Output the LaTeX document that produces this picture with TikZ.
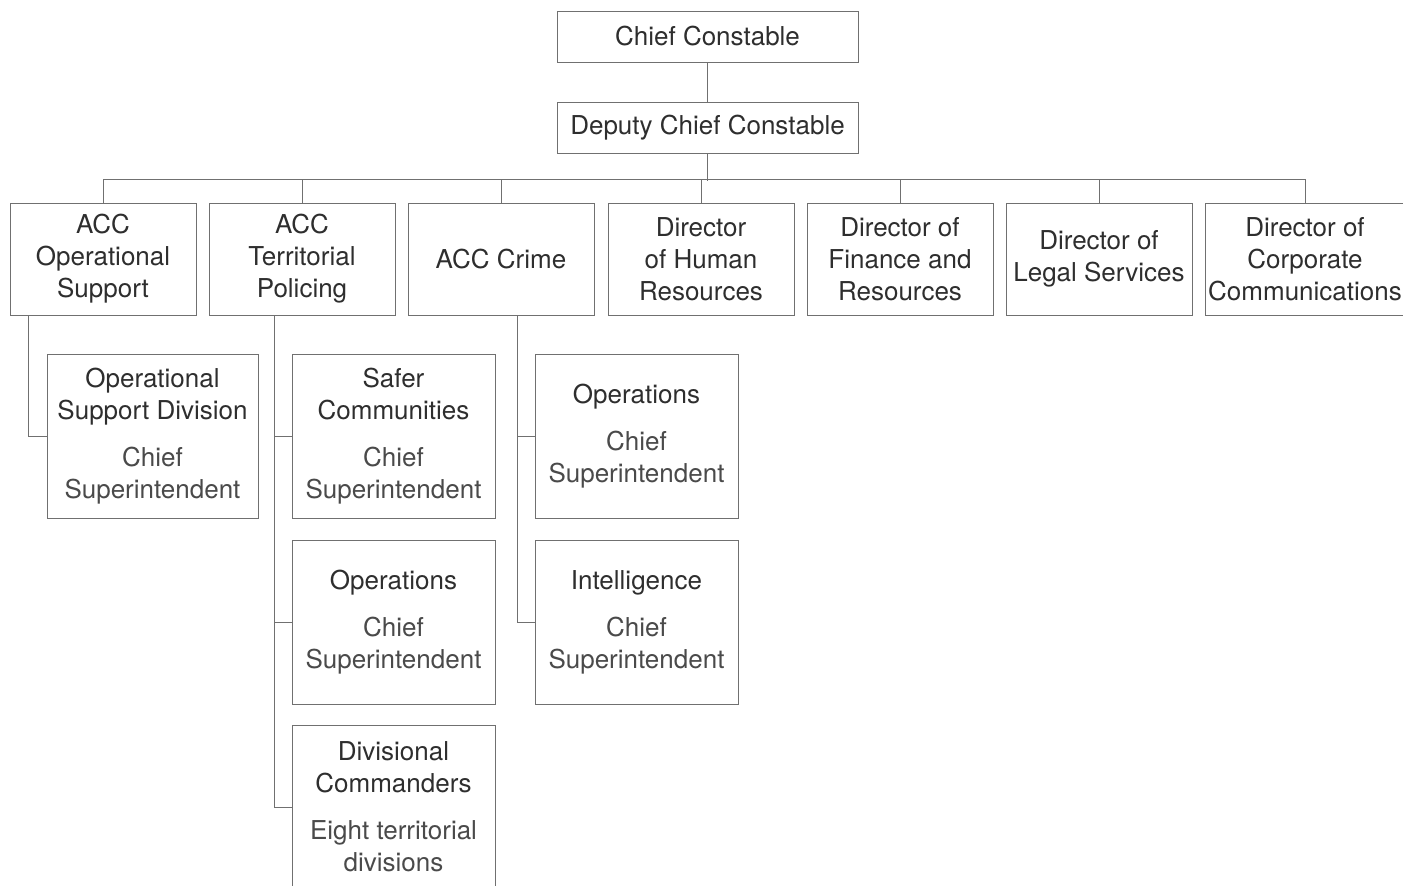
\documentclass[tikz,border=0pt]{standalone}
\usepackage{fontspec}
\setmainfont{TeX Gyre Heros}
\definecolor{linegray}{HTML}{707070}
\definecolor{textgray}{HTML}{2E2E2E}
\definecolor{subgray}{HTML}{4A4A4A}
\tikzset{
  box/.style={draw=linegray, line width=1pt, inner sep=0pt, align=center,
    text=textgray, font=\fontsize{26}{32}\selectfont},
  topbox/.style={box, minimum width=301pt, minimum height=51pt},
  rowbox/.style={box, minimum width=186pt, minimum height=112pt},
  subbox/.style={box, minimum width=203pt, minimum height=164pt},
  link/.style={draw=linegray, line width=1pt}
}
\newcommand{\rank}[2]{\\[15pt]\color{subgray}#1\\\color{subgray}#2}
\begin{document}
\begin{tikzpicture}[x=1pt,y=-1pt]
  \useasboundingbox (0,0) rectangle (1403,886);
  \node[topbox] (cc)  at (707.5,36.5)  {Chief Constable};
  \node[topbox] (dcc) at (707.5,127.5) {Deputy Chief Constable};

  \node[rowbox] (aos) at (103,259)  {ACC\\Operational\\Support};
  \node[rowbox] (atp) at (302,259)  {ACC\\Territorial\\Policing};
  \node[rowbox] (acr) at (501,259)  {ACC Crime};
  \node[rowbox] (dhr) at (701,259)  {Director\\of Human\\Resources};
  \node[rowbox] (dfr) at (900,259)  {Director of\\Finance and\\Resources};
  \node[rowbox] (dls) at (1099,259) {Director of\\Legal Services};
  \node[rowbox, minimum width=200pt] (dcm) at (1305,259) {Director of\\Corporate\\Communications};

  \node[subbox, minimum width=211pt] (osd) at (152.5,436) {Operational\\Support Division\rank{Chief}{Superintendent}};
  \node[subbox] (scm) at (393.5,436) {Safer\\Communities\rank{Chief}{Superintendent}};
  \node[subbox] (top) at (393.5,622) {Operations\rank{Chief}{Superintendent}};
  \node[subbox] (dvc) at (393.5,807) {Divisional\\Commanders\rank{Eight territorial}{divisions}};
  \node[subbox] (cop) at (636.5,436) {Operations\rank{Chief}{Superintendent}};
  \node[subbox] (int) at (636.5,622) {Intelligence\rank{Chief}{Superintendent}};

  \draw[link] (cc) -- (dcc);
  \draw[link] (dcc.south) -- ++(0,27);
  \draw[link] (aos.north) -- ++(0,-23) -| (dcm.north);
  \foreach \n in {atp,acr,dhr,dfr,dls}
    \draw[link] (\n.north) -- ++(0,-23);

  \draw[link] ([xshift=-75pt]aos.south) |- (osd.west);
  \foreach \n in {scm,top,dvc}
    \draw[link] ([xshift=-28pt]atp.south) |- (\n.west);
  \foreach \n in {cop,int}
    \draw[link] ([xshift=16pt]acr.south) |- (\n.west);
\end{tikzpicture}
\end{document}
